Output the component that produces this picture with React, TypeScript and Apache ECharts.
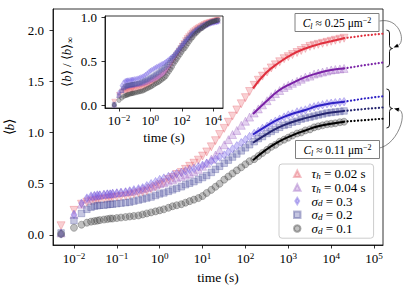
import React, { useEffect, useRef } from 'react';
import * as echarts from 'echarts';

const FONT = 'Liberation Serif';

// time points (s)
const times = [
  0.005, 0.01, 0.015, 0.02, 0.025, 0.03, 0.035, 0.04, 0.05, 0.06, 0.07, 0.08, 0.1,
  0.125, 0.16, 0.2, 0.25, 0.32, 0.4, 0.5, 0.63, 0.8, 1,
  1.25, 1.6, 2, 2.5, 3.2, 4, 5, 6.3, 8, 10,
  12.5, 16, 20, 25, 32, 40, 50, 63, 80, 100,
  125, 160, 200, 250, 320, 400, 500, 630, 800, 1000,
  1250, 1600, 2000, 2500, 3200, 4000, 5000, 6300, 8000, 10000,
  12500, 16000, 20000,
];

const tauH002 = [
  0.09, 0.24, 0.30, 0.32, 0.33, 0.335, 0.34, 0.345, 0.35, 0.355, 0.36, 0.365, 0.37,
  0.375, 0.38, 0.39, 0.40, 0.41, 0.42, 0.43, 0.45, 0.47, 0.49,
  0.51, 0.54, 0.56, 0.59, 0.61, 0.64, 0.67, 0.70, 0.73, 0.77,
  0.81, 0.86, 0.92, 0.98, 1.04, 1.10, 1.16, 1.22, 1.28, 1.34,
  1.40, 1.46, 1.51, 1.55, 1.59, 1.63, 1.66, 1.69, 1.72, 1.74,
  1.76, 1.78, 1.80, 1.82, 1.84, 1.85, 1.86, 1.87, 1.88, 1.89,
  1.90, 1.91, 1.92,
];
const tauH004 = [
  0.02, 0.20, 0.30, 0.35, 0.37, 0.38, 0.385, 0.39, 0.395, 0.40, 0.40, 0.405, 0.41,
  0.415, 0.42, 0.425, 0.43, 0.44, 0.45, 0.46, 0.47, 0.485, 0.50,
  0.51, 0.525, 0.54, 0.555, 0.57, 0.585, 0.60, 0.62, 0.64, 0.67,
  0.70, 0.74, 0.78, 0.83, 0.88, 0.93, 0.98, 1.02, 1.07, 1.11,
  1.15, 1.19, 1.23, 1.27, 1.31, 1.35, 1.38, 1.41, 1.44, 1.46,
  1.48, 1.50, 1.52, 1.54, 1.55, 1.57, 1.58, 1.59, 1.60, 1.61,
  1.615, 1.62, 1.625,
];
const sigD03 = [
  0.01, 0.20, 0.31, 0.36, 0.38, 0.385, 0.39, 0.39, 0.395, 0.40, 0.40, 0.405, 0.41,
  0.415, 0.42, 0.43, 0.44, 0.45, 0.46, 0.48, 0.50, 0.52, 0.54,
  0.555, 0.57, 0.585, 0.60, 0.61, 0.625, 0.64, 0.65, 0.665, 0.68,
  0.70, 0.72, 0.74, 0.76, 0.78, 0.81, 0.84, 0.87, 0.90, 0.93,
  0.96, 0.99, 1.01, 1.04, 1.06, 1.09, 1.11, 1.13, 1.15, 1.17,
  1.18, 1.20, 1.21, 1.22, 1.24, 1.25, 1.26, 1.27, 1.28, 1.285,
  1.29, 1.295, 1.30,
];
const sigD02 = [
  0.02, 0.14, 0.21, 0.25, 0.27, 0.28, 0.285, 0.29, 0.29, 0.295, 0.30, 0.30, 0.305,
  0.31, 0.315, 0.32, 0.33, 0.34, 0.35, 0.36, 0.37, 0.385, 0.40,
  0.41, 0.425, 0.44, 0.455, 0.47, 0.49, 0.505, 0.52, 0.54, 0.56,
  0.58, 0.61, 0.64, 0.67, 0.70, 0.73, 0.76, 0.79, 0.82, 0.85,
  0.88, 0.91, 0.94, 0.96, 0.99, 1.01, 1.03, 1.05, 1.07, 1.08,
  1.10, 1.11, 1.13, 1.14, 1.15, 1.16, 1.17, 1.18, 1.19, 1.195,
  1.20, 1.205, 1.21,
];
const sigD01 = [
  0.01, 0.07, 0.10, 0.12, 0.13, 0.135, 0.14, 0.145, 0.15, 0.155, 0.16, 0.16, 0.165,
  0.17, 0.175, 0.18, 0.185, 0.19, 0.20, 0.21, 0.22, 0.23, 0.24,
  0.25, 0.265, 0.28, 0.29, 0.30, 0.315, 0.33, 0.345, 0.36, 0.38,
  0.41, 0.44, 0.47, 0.50, 0.54, 0.57, 0.60, 0.63, 0.66, 0.69,
  0.72, 0.74, 0.77, 0.80, 0.83, 0.86, 0.88, 0.91, 0.93, 0.95,
  0.97, 0.99, 1.00, 1.02, 1.03, 1.05, 1.06, 1.07, 1.08, 1.085,
  1.09, 1.10, 1.105,
];

// fitted curves (solid) and extrapolations (dotted)
const fitTimes = [150, 300, 600, 1200, 2500, 5000, 10000, 20000];
const fit002 = [1.43, 1.58, 1.68, 1.76, 1.82, 1.86, 1.89, 1.92];
const fit004 = [1.18, 1.30, 1.41, 1.48, 1.54, 1.58, 1.61, 1.625];
const fit03 = [0.98, 1.06, 1.13, 1.18, 1.22, 1.26, 1.285, 1.30];
const fit02 = [0.90, 0.98, 1.05, 1.10, 1.14, 1.17, 1.195, 1.21];
const fit01 = [0.73, 0.83, 0.91, 0.97, 1.02, 1.06, 1.085, 1.105];

const extTimes = [20000, 56000, 170000];
const ext002 = [1.92, 1.945, 1.965];
const ext004 = [1.625, 1.655, 1.685];
const ext03 = [1.30, 1.33, 1.355];
const ext02 = [1.21, 1.228, 1.245];
const ext01 = [1.105, 1.12, 1.135];

// asymptotic values used for the normalised inset
const bInf = [1.97, 1.69, 1.37, 1.25, 1.14];

const seriesNames = ['tau002', 'tau004', 'sig03', 'sig02', 'sig01'];
const legendLabels = [
  '{g|τ}{sub|h} = 0.02 s',
  '{g|τ}{sub|h} = 0.04 s',
  '{g|σ}{sub|d} = 0.3',
  '{g|σ}{sub|d} = 0.2',
  '{g|σ}{sub|d} = 0.1',
];

const mainXTicks = [0.01, 0.1, 1, 10, 100, 1000, 10000, 100000];
const mainYTicks = [0, 0.5, 1, 1.5, 2];
const insetXTicks = [0.01, 1, 100, 10000];
const insetYTicks = [0, 0.5, 1];

const annotTop = '{i|C}{sub|l} ≈ 0.25 μm{sup|−2}';
const annotBottom = '{i|C}{sub|l} ≈ 0.11 μm{sup|−2}';

const markerColors = [
  'rgba(236,100,112,0.38)',
  'rgba(175,120,210,0.42)',
  'rgba(120,100,235,0.45)',
  'rgba(95,98,172,0.45)',
  'rgba(80,80,80,0.45)',
];
const markerBorders = [
  'rgba(225,80,95,0.45)',
  'rgba(150,95,190,0.5)',
  'rgba(100,80,220,0.5)',
  'rgba(75,78,150,0.5)',
  'rgba(50,50,50,0.5)',
];
const lineColors = ['#e0303e', '#7a22a6', '#2f22c4', '#24246e', '#000000'];
const symbols = ['triangle', 'triangle', 'diamond', 'rect', 'circle'];
const symbolRot = [180, 0, 0, 0, 0];
const symbolSizes: any[] = [8, 8, [5.5, 8.5], 6.5, 7];
const insetSizes: any[] = [5, 5, [3.5, 5.5], 4, 4.5];

const rich = (fs: number, lh?: number) => ({
  i: { fontFamily: FONT, fontStyle: 'italic', fontSize: fs, color: '#000', lineHeight: lh },
  g: { fontFamily: FONT, fontStyle: 'italic', fontSize: fs, color: '#000', lineHeight: lh },
  sub: { fontFamily: FONT, fontStyle: 'italic', fontSize: fs * 0.7, lineHeight: fs * 0.7, verticalAlign: 'bottom', color: '#000' },
  sup: { fontFamily: FONT, fontSize: fs * 0.7, lineHeight: fs * 0.7, verticalAlign: 'top', color: '#000' },
});

const pow10 = (v: number) => {
  const e = Math.round(Math.log10(v));
  return '10{sup|' + (e < 0 ? '−' + -e : String(e)) + '}';
};

function brace(xL: number, y0: number, y1: number, w: number) {
  const xm = xL + w / 2;
  const ym = (y0 + y1) / 2;
  const r = 3;
  const st = { stroke: '#000', lineWidth: 0.9, fill: null };
  return [
    { type: 'bezierCurve', shape: { x1: xL, y1: y0, cpx1: xm, cpy1: y0, x2: xm, y2: y0 + r } },
    { type: 'line', shape: { x1: xm, y1: y0 + r, x2: xm, y2: ym - r } },
    { type: 'bezierCurve', shape: { x1: xm, y1: ym - r, cpx1: xm, cpy1: ym, x2: xL + w, y2: ym } },
    { type: 'bezierCurve', shape: { x1: xL + w, y1: ym, cpx1: xm, cpy1: ym, x2: xm, y2: ym + r } },
    { type: 'line', shape: { x1: xm, y1: ym + r, x2: xm, y2: y1 - r } },
    { type: 'bezierCurve', shape: { x1: xm, y1: y1 - r, cpx1: xm, cpy1: y1, x2: xL, y2: y1 } },
  ].map((e) => ({ ...e, silent: true, style: st }));
}

function arrow(sx: number, sy: number, c1x: number, c1y: number, c2x: number, c2y: number, ex: number, ey: number) {
  const dx = ex - c2x;
  const dy = ey - c2y;
  const n = Math.hypot(dx, dy);
  const ux = dx / n;
  const uy = dy / n;
  const L = 5;
  const W = 2;
  const bx = ex - ux * L;
  const by = ey - uy * L;
  return [
    {
      type: 'bezierCurve',
      shape: { x1: sx, y1: sy, cpx1: c1x, cpy1: c1y, cpx2: c2x, cpy2: c2y, x2: bx, y2: by },
      style: { stroke: '#555', lineWidth: 0.7, fill: null },
    },
    {
      type: 'polygon',
      shape: { points: [[ex, ey], [bx - uy * W, by + ux * W], [bx + uy * W, by - ux * W]] },
      style: { fill: '#000' },
    },
  ];
}

function annotBox(x: number, y: number, w: number, h: number, text: string) {
  return [
    { type: 'rect', shape: { x, y, width: w, height: h }, style: { fill: '#fff', stroke: '#808080', lineWidth: 1 }, z: 10 },
    {
      type: 'text',
      x: x + w / 2,
      y: y + h / 2 + 0.5,
      z: 11,
      style: {
        text,
        align: 'center',
        verticalAlign: 'middle',
        fontFamily: FONT,
        fontSize: 11.5,
        lineHeight: 14,
        fill: '#000',
        rich: rich(11.5),
      },
    },
  ];
}

export default function App() {
  const ref = useRef<HTMLDivElement>(null);
  useEffect(() => {
    const chart = echarts.init(ref.current!, null, { renderer: 'svg' });
    const allData = [tauH002, tauH004, sigD03, sigD02, sigD01];
    const fits = [fit002, fit004, fit03, fit02, fit01];
    const exts = [ext002, ext004, ext03, ext02, ext01];

    const series: any[] = [];
    allData.forEach((arr, k) => {
      series.push({
        type: 'scatter',
        name: seriesNames[k],
        xAxisIndex: 0,
        yAxisIndex: 0,
        symbol: symbols[k],
        symbolRotate: symbolRot[k],
        symbolSize: symbolSizes[k],
        itemStyle: { color: markerColors[k], borderColor: markerBorders[k], borderWidth: 0.8 },
        data: times.map((t, i) => [t, arr[i]]),
        z: 2,
      });
    });
    fits.forEach((arr, k) => {
      series.push({
        type: 'line',
        name: 'fit' + k,
        xAxisIndex: 0,
        yAxisIndex: 0,
        smooth: true,
        symbol: 'none',
        lineStyle: { color: lineColors[k], width: 2 },
        data: fitTimes.map((t, i) => [t, arr[i]]),
        z: 4,
      });
      series.push({
        type: 'line',
        name: 'ext' + k,
        xAxisIndex: 0,
        yAxisIndex: 0,
        symbol: 'none',
        clip: true,
        lineStyle: { color: lineColors[k], width: 2.2, type: [0.1, 3.4], cap: 'round' },
        data: extTimes.map((t, i) => [t, exts[k][i]]),
        z: 4,
      });
    });
    allData.forEach((arr, k) => {
      series.push({
        type: 'scatter',
        name: seriesNames[k],
        xAxisIndex: 1,
        yAxisIndex: 1,
        symbol: symbols[k],
        symbolRotate: symbolRot[k],
        symbolSize: insetSizes[k],
        itemStyle: { color: markerColors[k], borderColor: markerBorders[k], borderWidth: 0.6 },
        data: times.map((t, i) => [t, arr[i] / bInf[k]]),
        z: 6,
      });
    });

    const axisCommon = {
      axisLine: { show: true, onZero: false, lineStyle: { color: '#000', width: 0.8 } },
      splitLine: { show: false },
      minorTick: { show: false },
      minorSplitLine: { show: false },
    };
    const labelStyle = { fontFamily: FONT, fontSize: 13, color: '#000', fontWeight: 'normal' };

    const option: any = {
      animation: false,
      backgroundColor: '#fff',
      textStyle: { fontFamily: FONT },
      grid: [
        { left: 53, top: 9, width: 330, height: 236, show: true, borderColor: '#000', borderWidth: 0.8, backgroundColor: 'transparent', containLabel: false, outerBoundsMode: 'none' },
        { left: 105, top: 16, width: 118, height: 92, show: true, borderColor: '#000', borderWidth: 0.8, backgroundColor: '#fff', containLabel: false, outerBoundsMode: 'none', z: 5 },
      ],
      xAxis: [
        {
          ...axisCommon,
          type: 'log',
          logBase: 10,
          gridIndex: 0,
          min: 0.00324,
          max: 162000,
          axisTick: { show: true, inside: false, length: 3.5, lineStyle: { color: '#000', width: 0.8 }, customValues: mainXTicks },
          axisLabel: { ...labelStyle, customValues: mainXTicks, formatter: pow10, margin: 6, lineHeight: 15, rich: rich(13) },
          name: 'time (s)',
          nameLocation: 'middle',
          nameGap: 24,
          nameTextStyle: { ...labelStyle, fontSize: 13.5 },
        },
        {
          ...axisCommon,
          type: 'log',
          logBase: 10,
          gridIndex: 1,
          min: 0.00129,
          max: 42000,
          z: 6,
          axisTick: { show: true, inside: false, length: 3.5, lineStyle: { color: '#000', width: 0.8 }, customValues: insetXTicks },
          axisLabel: { ...labelStyle, customValues: insetXTicks, formatter: pow10, margin: 5, lineHeight: 15, rich: rich(13) },
          name: 'time (s)',
          nameLocation: 'middle',
          nameGap: 22,
          nameTextStyle: { ...labelStyle, fontSize: 13.5 },
        },
      ],
      yAxis: [
        {
          ...axisCommon,
          type: 'value',
          gridIndex: 0,
          min: -0.098,
          max: 2.205,
          axisTick: { show: true, inside: false, length: 3.5, lineStyle: { color: '#000', width: 0.8 }, customValues: mainYTicks },
          axisLabel: { ...labelStyle, customValues: mainYTicks, formatter: (v: number) => v.toFixed(1), margin: 9 },
          name: '⟨{i|b}⟩',
          nameLocation: 'middle',
          nameGap: 31,
          nameTextStyle: { ...labelStyle, fontSize: 13.5, rich: rich(13.5) },
        },
        {
          ...axisCommon,
          type: 'value',
          gridIndex: 1,
          min: -0.026,
          max: 1.015,
          z: 6,
          axisTick: { show: true, inside: false, length: 3.5, lineStyle: { color: '#000', width: 0.8 }, customValues: insetYTicks },
          axisLabel: { ...labelStyle, customValues: insetYTicks, formatter: (v: number) => v.toFixed(1), margin: 8 },
          name: '⟨{i|b}⟩ / ⟨{i|b}⟩{sub|∞}',
          nameLocation: 'middle',
          nameGap: 31,
          nameTextStyle: { ...labelStyle, fontSize: 13, lineHeight: 15, rich: rich(13) },
        },
      ],
      legend: {
        data: [
          { name: seriesNames[0] },
          { name: seriesNames[1] },
          { name: seriesNames[2], icon: 'path://M3,0 L6,5 L3,10 L0,5 Z' },
          { name: seriesNames[3] },
          { name: seriesNames[4] },
        ],
        orient: 'vertical',
        left: 279,
        top: 164,
        padding: [3, 8, 3, 14],
        itemGap: 0.3,
        itemWidth: 6.5,
        itemHeight: 6.5,
        backgroundColor: 'rgba(255,255,255,0.85)',
        borderColor: '#cccccc',
        borderWidth: 1,
        borderRadius: 3,
        textStyle: { fontFamily: FONT, fontSize: 13, color: '#000', lineHeight: 13.4, padding: [0, 0, 0, 6], rich: rich(13, 13.4) },
        formatter: (name: string) => legendLabels[seriesNames.indexOf(name)],
        selectedMode: false,
        z: 12,
      },
      graphic: [
        ...annotBox(295, 13.5, 84, 18, annotTop),
        ...annotBox(295.5, 140.5, 84, 18, annotBottom),
        ...brace(386.5, 30, 67, 6),
        ...brace(386.5, 89, 128, 6),
        ...arrow(379.5, 21, 400, 17, 406, 42, 393.5, 47.5),
        ...arrow(379.5, 148, 398, 144, 408, 112, 394, 108.5),
      ],
      series,
    };
    chart.setOption(option);
    return () => chart.dispose();
  }, []);
  return <div ref={ref} style={{ position: 'fixed', left: 0, top: 0, width: 411, height: 294 }} />;
}
